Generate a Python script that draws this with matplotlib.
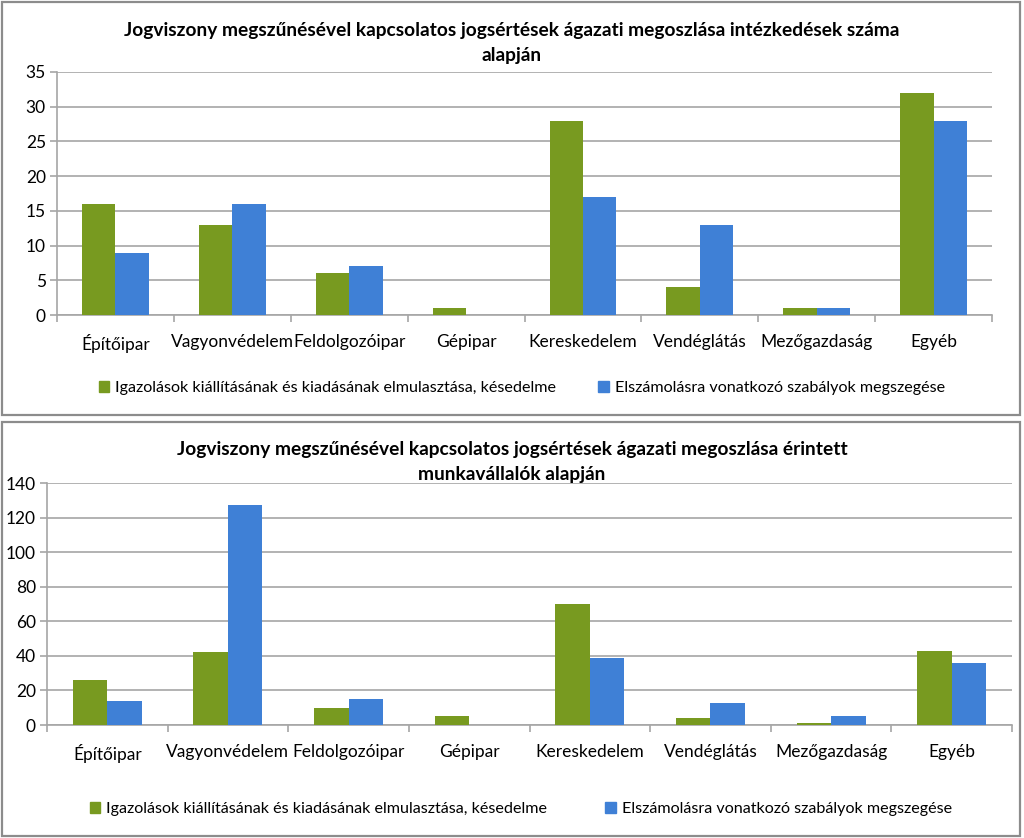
import matplotlib
matplotlib.use("Agg")
import matplotlib.pyplot as plt
from matplotlib.patches import Rectangle, Patch
import numpy as np

categories = ["Építőipar", "Vagyonvédelem", "Feldolgozóipar", "Gépipar",
              "Kereskedelem", "Vendéglátás", "Mezőgazdaság", "Egyéb"]
series_names = ["Igazolások kiállításának és kiadásának elmulasztása, késedelme",
                "Elszámolásra vonatkozó szabályok megszegése"]

# Chart 1: number of measures
top_green = [16, 13, 6, 1, 28, 4, 1, 32]
top_blue = [9, 16, 7, 0, 17, 13, 1, 28]
top_title = "Jogviszony megszűnésével kapcsolatos jogsértések ágazati megoszlása intézkedések száma\nalapján"
top_yticks = [0, 5, 10, 15, 20, 25, 30, 35]

# Chart 2: affected employees
bot_green = [26, 42, 10, 5, 70, 4, 1, 43]
bot_blue = [14, 127, 15, 0, 39, 13, 5, 36]
bot_title = "Jogviszony megszűnésével kapcsolatos jogsértések ágazati megoszlása érintett\nmunkavállalók alapján"
bot_yticks = [0, 20, 40, 60, 80, 100, 120, 140]

GREEN = "#789A20"
BLUE = "#3F80D6"
GRID = "#A6A6A6"

plt.rcParams['font.family'] = ['Lato', 'DejaVu Sans']

W, H = 1024, 838
fig = plt.figure(figsize=(W / 100, H / 100), dpi=100)

def px_rect(x0, y0, x1, y1):
    return [x0 / W, 1 - y1 / H, (x1 - x0) / W, (y1 - y0) / H]

# frames
for (x0, y0, x1, y1) in [(2, 2, 1020, 415), (2, 422, 1020, 836)]:
    fig.patches.append(Rectangle((x0 / W, 1 - y1 / H), (x1 - x0) / W, (y1 - y0) / H,
                                 transform=fig.transFigure, fill=False,
                                 edgecolor="#8C8C8C", linewidth=1.6))

def draw(rect, green, blue, yticks, title, title_y, legend_y, leg_x, colsp):
    ax = fig.add_axes(px_rect(*rect))
    x = np.arange(len(categories)) + 0.5
    bw = 1 / 3.5
    ax.bar(x - bw / 2, green, bw, color=GREEN, zorder=3)
    ax.bar(x + bw / 2, blue, bw, color=BLUE, zorder=3)
    ax.set_xlim(0, len(categories))
    ax.set_ylim(yticks[0], yticks[-1])
    ax.set_yticks(yticks)
    ax.set_yticklabels([str(t) for t in yticks], fontsize=12.5)
    ax.yaxis.grid(True, color=GRID, linewidth=1.2, zorder=0)
    ax.set_xticks(np.arange(len(categories) + 1))
    ax.set_xticklabels([])
    ax.set_xticks(x, minor=True)
    ax.set_xticklabels(categories, minor=True, fontsize=12.5)
    ax.tick_params(axis='x', which='major', length=5, color=GRID, width=1.2)
    ax.tick_params(axis='x', which='minor', length=0, pad=14)
    ax.tick_params(axis='y', length=5, color=GRID, width=1.2, pad=3)
    for s in ['top', 'right']:
        ax.spines[s].set_visible(False)
    for s in ['left', 'bottom']:
        ax.spines[s].set_color(GRID)
        ax.spines[s].set_linewidth(1.2)
    fig.text(0.5, 1 - title_y / H, title, ha='center', va='center',
             fontsize=13.8, fontweight='bold', linespacing=1.55)
    handles = [Patch(color=GREEN), Patch(color=BLUE)]
    fig.legend(handles, series_names, loc='center left',
               bbox_to_anchor=(leg_x / W, 1 - legend_y / H), ncol=2, frameon=False,
               fontsize=11.6, handlelength=0.65, handleheight=0.65, handletextpad=0.4,
               columnspacing=colsp)
    return ax

draw((57, 72, 992, 315), top_green, top_blue, top_yticks, top_title, 43, 388, 84, 2.6)
draw((47, 483, 1012, 725), bot_green, bot_blue, bot_yticks, bot_title, 462, 809, 75, 3.6)

fig.savefig("out.png", dpi=100)
